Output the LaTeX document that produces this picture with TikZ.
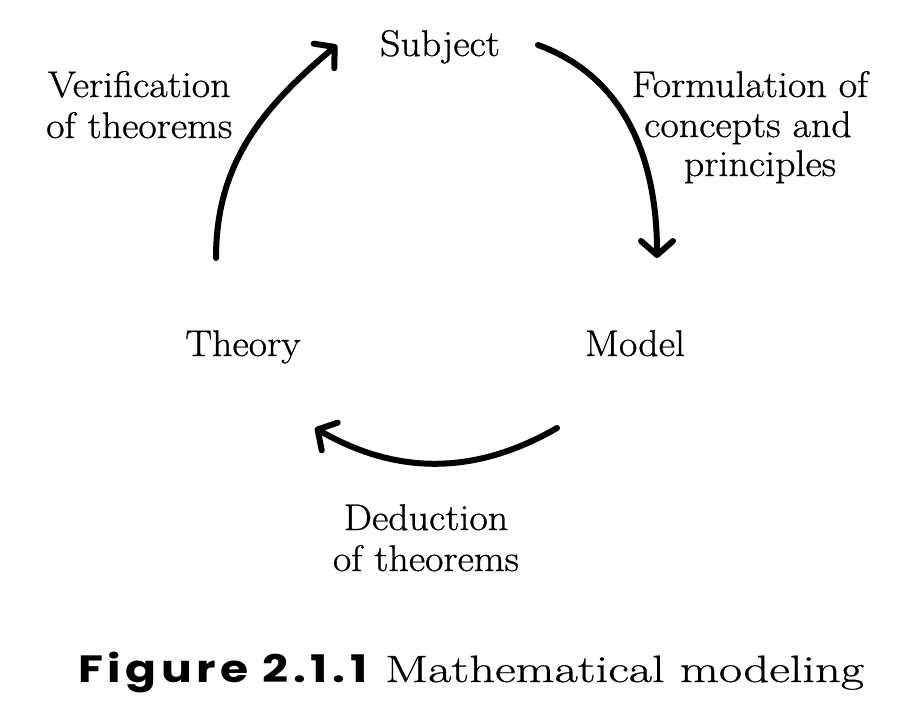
\documentclass[tikz,border=0pt]{standalone}
\usepackage{fontspec}
\newfontfamily\capfont{Poppins}[LetterSpace=12,FakeStretch=1.2]
\newfontfamily\lblfont{Latin Modern Roman}[FakeStretch=1.08,FakeBold=0.8]
\newfontfamily\capsfont{Latin Modern Roman}[FakeStretch=1.33,FakeBold=0.8]
\usetikzlibrary{arrows.meta}
\begin{document}
\begin{tikzpicture}[x=1pt,y=1pt,
  lbl/.style={inner sep=0pt, anchor=base, font=\lblfont\fontsize{37}{41}\selectfont, align=center},
  flow/.style={line width=6pt, line cap=round,
    -{Straight Barb[length=14pt,width=32pt,line width=6pt,round]}}]
\useasboundingbox[fill=white] (0,0) rectangle (909,-723);
\node[lbl] (subject) at (440,-56) {Subject};
\node[lbl, anchor=base west] (verif) at (48,-97) {Verification};
\node[lbl, anchor=base west] (verif2) at (46,-138) {of theorems};
\node[lbl] (form) at (750,-97) {Formulation of};
\node[lbl] (form2) at (748,-137) {concepts and};
\node[lbl] (form3) at (760,-176) {principles};
\node[lbl] (theory) at (243,-356) {Theory};
\node[lbl] (model) at (635,-356) {Model};
\node[lbl] (deduct) at (426,-571) {Deduction\\of theorems};
\node[anchor=base west, inner sep=0pt] (cap) at (78,-682)
  {\capfont\bfseries\fontsize{38}{40}\selectfont Figure 2.1.1};
\node[anchor=base west, inner sep=0pt] (cap2) at (385,-682)
  {\capsfont\fontsize{38}{40}\selectfont Mathematical modeling};
\coordinate (a1s) at (216,-258);
\coordinate (a1e) at (337,-45);
\coordinate (a2s) at (538,-45);
\coordinate (a2e) at (657,-258);
\coordinate (a3s) at (557,-428);
\coordinate (a3e) at (315,-428);
\draw[flow] (a1s) to[out=90,in=220] (a1e);
\draw[flow] (a2s) to[out=-20,in=90] (a2e);
\draw[flow] (a3s) to[out=210,in=-30] (a3e);
\end{tikzpicture}
\end{document}
